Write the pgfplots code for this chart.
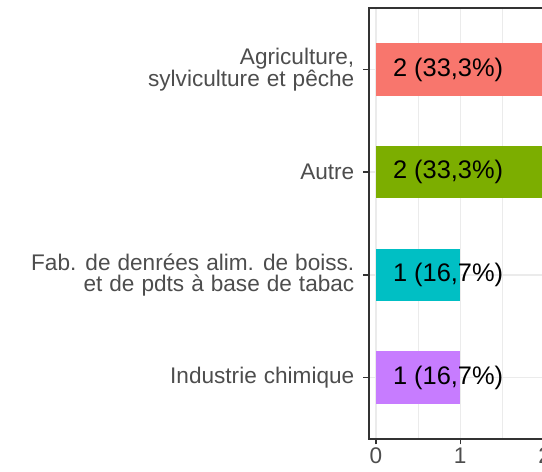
\documentclass[border=0pt]{standalone}
\usepackage{pgfplots}
\pgfplotsset{compat=1.18}
\usepackage{fontspec}
\setmainfont{Liberation Sans}
\definecolor{cA}{HTML}{F8766D}
\definecolor{cB}{HTML}{7CAE00}
\definecolor{cC}{HTML}{00BFC4}
\definecolor{cD}{HTML}{C77CFF}
\definecolor{gridc}{HTML}{EBEBEB}
\definecolor{axc}{HTML}{333333}
\definecolor{labc}{HTML}{4D4D4D}
\newcommand\ylabfont{\fontsize{22.6}{21}\selectfont\spaceskip=0.31em plus 0.1em\relax}
\begin{document}
\begin{tikzpicture}
\useasboundingbox (0,0) rectangle (542pt,472pt);
\clip (0,0) rectangle (542pt,472pt);
\begin{axis}[
  at={(369pt,33pt)}, anchor=south west,
  scale only axis, width=184pt, height=431pt,
  xmin=-0.083, xmax=2.1, ymin=0.4, ymax=4.6,
  xtick={0,1,2}, minor xtick={0.5,1.5},
  ytick={1,2,3,4},
  yticklabels={{Industrie chimique},{Fab. de denrées alim. de boiss.\\et de pdts à base de tabac},{Autre},{Agriculture,\\sylviculture et pêche}},
  xmajorgrids, xminorgrids, ymajorgrids,
  major grid style={gridc, line width=1.4pt},
  minor grid style={gridc, line width=1.2pt},
  axis line style={axc, line width=1.5pt},
  tick align=outside, major tick length=5.5pt, minor tick length=0pt,
  tick style={axc, line width=1.5pt},
  xtick pos=bottom, ytick pos=left,
  /pgf/number format/assume math mode=true,
  xticklabel style={inner sep=0pt, yshift=-3pt, text=labc, font=\fontsize{22.6}{22}\selectfont},
  yticklabel style={inner sep=0pt, xshift=-9pt, align=right, text=labc, font=\ylabfont},
]
\addplot[xbar, bar width=52.5pt, bar shift=0pt, fill=cD, draw=none] coordinates {(1,1)};
\addplot[xbar, bar width=52.5pt, bar shift=0pt, fill=cC, draw=none] coordinates {(1,2)};
\addplot[xbar, bar width=52.5pt, bar shift=0pt, fill=cB, draw=none] coordinates {(2,3)};
\addplot[xbar, bar width=52.5pt, bar shift=0pt, fill=cA, draw=none] coordinates {(2,4)};
\addplot[draw=none, mark=none, point meta=explicit symbolic,
  nodes near coords,
  every node near coord/.append style={anchor=west, inner sep=0pt, text=black, font=\fontsize{25.4}{26}\selectfont}]
  coordinates {(0.2,1) [1 (16,7\%)] (0.2,2) [1 (16,7\%)] (0.2,3) [2 (33,3\%)] (0.2,4) [2 (33,3\%)]};
\end{axis}
\end{tikzpicture}
\end{document}
